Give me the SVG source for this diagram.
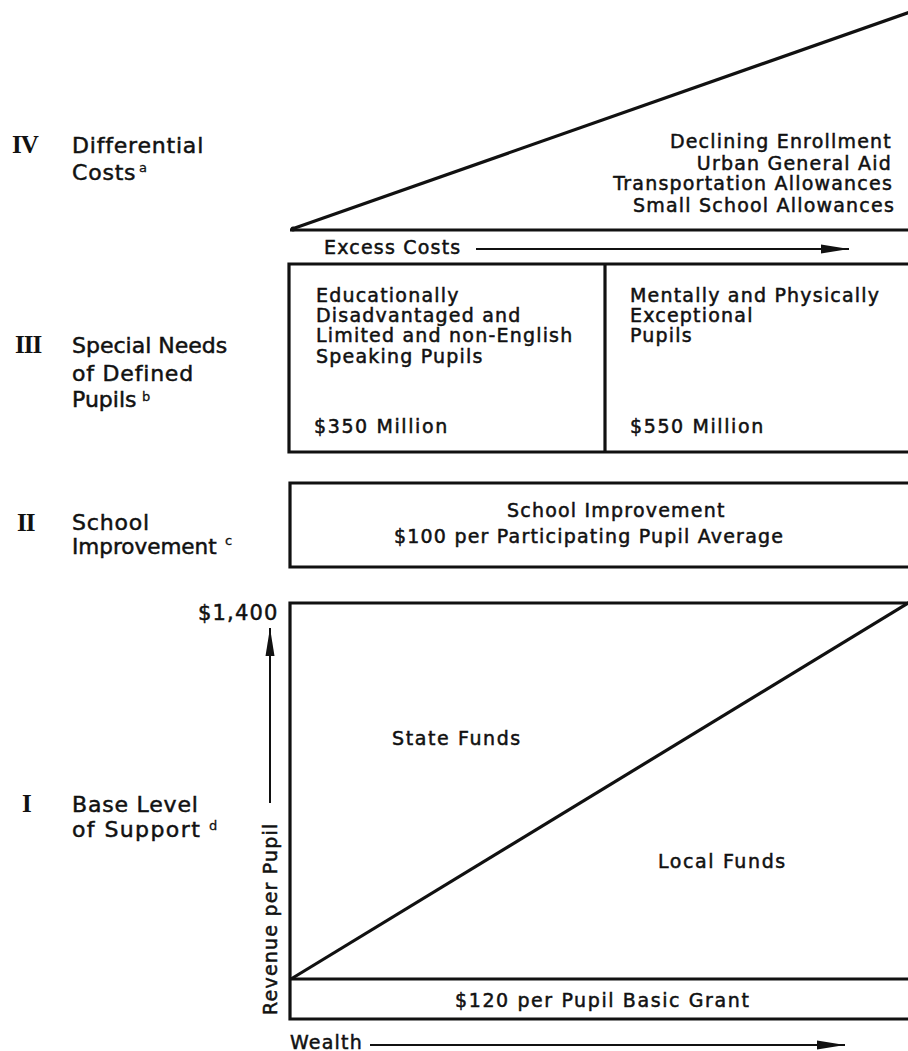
<svg xmlns="http://www.w3.org/2000/svg" width="908" height="1051" viewBox="0 0 908 1051">
<defs>
<style>
.lbl{font-family:"DejaVu Sans","Liberation Sans",sans-serif;font-size:22px;fill:#111;stroke:#111;stroke-width:0.5px;letter-spacing:0.8px}
.txt{font-family:"DejaVu Sans","Liberation Sans",sans-serif;font-size:19px;fill:#111;stroke:#111;stroke-width:0.5px;letter-spacing:1.2px}
.sup{font-family:"DejaVu Sans","Liberation Sans",sans-serif;font-size:13px;fill:#111;stroke:#111;stroke-width:0.3px}
.rom{font-family:"Liberation Serif","DejaVu Serif",serif;font-size:25px;font-weight:bold;fill:#111;letter-spacing:-1px}
.box{fill:none;stroke:#111;stroke-width:3.2}
.arr{fill:none;stroke:#111;stroke-width:2}
</style>
<marker id="ah" markerUnits="userSpaceOnUse" markerWidth="30" markerHeight="12" refX="28" refY="5" orient="auto">
<path d="M0,0.5 L28,5 L0,9.5 Z" fill="#111"/>
</marker>
</defs>
<rect width="908" height="1051" fill="#fff"/>

<g id="labels">
<text class="rom" x="12" y="153">IV</text>
<text class="lbl" x="72" y="153">Differential</text>
<text class="lbl" x="72" y="180">Costs</text>
<text class="sup" x="139" y="172">a</text>

<text class="rom" x="15" y="353">III</text>
<text class="lbl" x="72" y="353" style="letter-spacing:0">Special Needs</text>
<text class="lbl" x="72" y="381">of Defined</text>
<text class="lbl" x="72" y="407" style="letter-spacing:0">Pupils</text>
<text class="sup" x="142" y="401">b</text>

<text class="rom" x="17" y="531">II</text>
<text class="lbl" x="72" y="530">School</text>
<text class="lbl" x="72" y="554" style="letter-spacing:0;font-size:21.5px">Improvement</text>
<text class="sup" x="225" y="545">c</text>

<text class="rom" x="22" y="812">I</text>
<text class="lbl" x="72" y="812">Base Level</text>
<text class="lbl" x="72" y="837" style="letter-spacing:1.4px">of Support</text>
<text class="sup" x="209" y="830">d</text>
</g>

<g id="node-IV">
<path class="box" d="M292,229 L910,12"/>
<path class="box" d="M290,230 L910,230"/>
<circle cx="293" cy="229" r="2.5" fill="#111"/>
<text class="txt" x="892" y="148" text-anchor="end">Declining Enrollment</text>
<text class="txt" x="892" y="170" text-anchor="end">Urban General  Aid</text>
<text class="txt" x="893" y="190" text-anchor="end">Transportation Allowances</text>
<text class="txt" x="895" y="212" text-anchor="end">Small School  Allowances</text>
</g>

<g id="node-III">
<path class="box" d="M910,264 L289,264 L289,452 L910,452"/>
<path class="box" d="M605,264 L605,452"/>
<text class="txt" x="316" y="302">Educationally</text>
<text class="txt" x="316" y="322">Disadvantaged and</text>
<text class="txt" x="316" y="342">Limited and non-English</text>
<text class="txt" x="316" y="363">Speaking Pupils</text>
<text class="txt" x="314" y="433" style="letter-spacing:1.6px">$350 Million</text>
<text class="txt" x="630" y="302">Mentally and Physically</text>
<text class="txt" x="630" y="322">Exceptional</text>
<text class="txt" x="630" y="342">Pupils</text>
<text class="txt" x="630" y="433" style="letter-spacing:1.6px">$550 Million</text>
</g>

<g id="node-II">
<path class="box" d="M910,483 L290,483 L290,567 L910,567"/>
<text class="txt" x="507" y="517">School  Improvement</text>
<text class="txt" x="394" y="543">$100 per Participating  Pupil Average</text>
</g>

<g id="node-I">
<path class="box" d="M910,603 L290,603 L290,1019 L910,1019"/>
<path class="box" d="M290,979 L910,979"/>
<path class="box" d="M291,979 L910,602"/>
<text class="txt" x="392" y="745" style="letter-spacing:1.6px">State Funds</text>
<text class="txt" x="658" y="868" style="letter-spacing:1.6px">Local Funds</text>
<text class="txt" x="455" y="1007" style="letter-spacing:1.6px">$120 per Pupil Basic Grant</text>
<text class="txt" x="198" y="620" style="font-size:21px">$1,400</text>
<text class="txt" transform="translate(277,1015) rotate(-90)" x="0" y="0">Revenue per Pupil</text>
<text class="txt" x="290" y="1049">Wealth</text>
<text class="txt" x="324" y="254">Excess Costs</text>
</g>

<g id="connectors">
<path class="arr" d="M476,249 L849,249" marker-end="url(#ah)"/>
<path class="arr" d="M370,1045 L845,1045" marker-end="url(#ah)"/>
<path class="arr" d="M270,803 L270,628" marker-end="url(#ah)"/>
</g>
</svg>
